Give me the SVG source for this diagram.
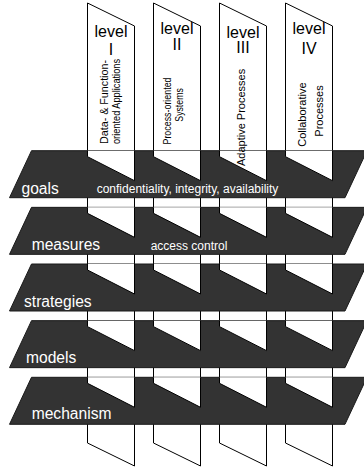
<svg xmlns="http://www.w3.org/2000/svg" width="364" height="469" viewBox="0 0 364 469">
  <style>
    .strip { fill: #fff; stroke: #000; stroke-width: 1; }
    .plate { fill: #333; stroke: #1a1a1a; stroke-width: 1; }
    .cut { fill: #fff; stroke: #000; stroke-width: 1; }
    text { font-family: "Liberation Sans", Arial, Helvetica, sans-serif; }
    .lvl { font-size: 16px; fill: #000; text-anchor: middle; }
    .sub { fill: #000; font-size: 11px; }
    .name { font-size: 15.6px; fill: #fff; }
    .note { font-size: 12px; fill: #fff; }
  </style>
  <defs>
    <!-- vertical level strip, 47 wide, slanted ends -->
    <path id="strip" d="M0,3 L47,26 V466 L0,443 Z"/>
    <!-- horizontal layer plate, 47 high -->
    <path id="plate" d="M31.5,0 H367 L345,47 H9.5 Z"/>
    <!-- part of a strip standing in front of the back half of a plate -->
    <path id="cut" d="M0,0 V6 L47,30 V0"/>
  </defs>

  <!-- level strips (behind the plates) -->
  <g id="strips">
    <use href="#strip" class="strip" x="87.5"/>
    <use href="#strip" class="strip" x="153.5"/>
    <use href="#strip" class="strip" x="219.5"/>
    <use href="#strip" class="strip" x="285.5"/>
  </g>

  <!-- layer plates, each with the strip parts rising in front of it -->
  <g id="goals">
    <use href="#plate" class="plate" y="150.7"/>
    <use href="#cut" class="cut" x="87.5" y="150.7"/>
    <use href="#cut" class="cut" x="153.5" y="150.7"/>
    <use href="#cut" class="cut" x="219.5" y="150.7"/>
    <use href="#cut" class="cut" x="285.5" y="150.7"/>
    <text class="name" x="21.5" y="194">goals</text>
    <text class="note" x="96.7" y="192.7">confidentiality, integrity, availability</text>
  </g>
  <g id="measures">
    <use href="#plate" class="plate" y="207.35"/>
    <use href="#cut" class="cut" x="87.5" y="207.35"/>
    <use href="#cut" class="cut" x="153.5" y="207.35"/>
    <use href="#cut" class="cut" x="219.5" y="207.35"/>
    <use href="#cut" class="cut" x="285.5" y="207.35"/>
    <text class="name" x="31.7" y="250">measures</text>
    <text class="note" x="150.7" y="250">access control</text>
  </g>
  <g id="strategies">
    <use href="#plate" class="plate" y="264"/>
    <use href="#cut" class="cut" x="87.5" y="264"/>
    <use href="#cut" class="cut" x="153.5" y="264"/>
    <use href="#cut" class="cut" x="219.5" y="264"/>
    <use href="#cut" class="cut" x="285.5" y="264"/>
    <text class="name" x="24" y="306.7">strategies</text>
  </g>
  <g id="models">
    <use href="#plate" class="plate" y="320.65"/>
    <use href="#cut" class="cut" x="87.5" y="320.65"/>
    <use href="#cut" class="cut" x="153.5" y="320.65"/>
    <use href="#cut" class="cut" x="219.5" y="320.65"/>
    <use href="#cut" class="cut" x="285.5" y="320.65"/>
    <text class="name" x="26" y="362.7">models</text>
  </g>
  <g id="mechanism">
    <use href="#plate" class="plate" y="377.3"/>
    <use href="#cut" class="cut" x="87.5" y="377.3"/>
    <use href="#cut" class="cut" x="153.5" y="377.3"/>
    <use href="#cut" class="cut" x="219.5" y="377.3"/>
    <use href="#cut" class="cut" x="285.5" y="377.3"/>
    <text class="name" x="31.7" y="419">mechanism</text>
  </g>

  <!-- level captions -->
  <g id="level-1">
    <text class="lvl" x="111" y="37">level</text>
    <text class="lvl" x="111" y="55">I</text>
    <text class="sub" textLength="84" lengthAdjust="spacingAndGlyphs" transform="translate(107.5,144) rotate(-90)">Data- &amp; Function-</text>
    <text class="sub" textLength="85" lengthAdjust="spacingAndGlyphs" transform="translate(119.5,144) rotate(-90)">oriented Applications</text>
  </g>
  <g id="level-2">
    <text class="lvl" x="177" y="34">level</text>
    <text class="lvl" x="177" y="50">II</text>
    <text class="sub" textLength="67" lengthAdjust="spacingAndGlyphs" transform="translate(171,144.5) rotate(-90)">Process-oriented</text>
    <text class="sub" textLength="33.5" lengthAdjust="spacingAndGlyphs" transform="translate(183,121.7) rotate(-90)">Systems</text>
  </g>
  <g id="level-3">
    <text class="lvl" x="243" y="37.5">level</text>
    <text class="lvl" x="243" y="53">III</text>
    <text class="sub" font-size="11.2" transform="translate(244.5,166) rotate(-90)">Adaptive Processes</text>
  </g>
  <g id="level-4">
    <text class="lvl" x="309" y="34">level</text>
    <text class="lvl" x="309" y="54">IV</text>
    <text class="sub" font-size="10.9" transform="translate(306.2,146.7) rotate(-90)">Collaborative</text>
    <text class="sub" transform="translate(322.5,136.7) rotate(-90)">Processes</text>
  </g>
</svg>
